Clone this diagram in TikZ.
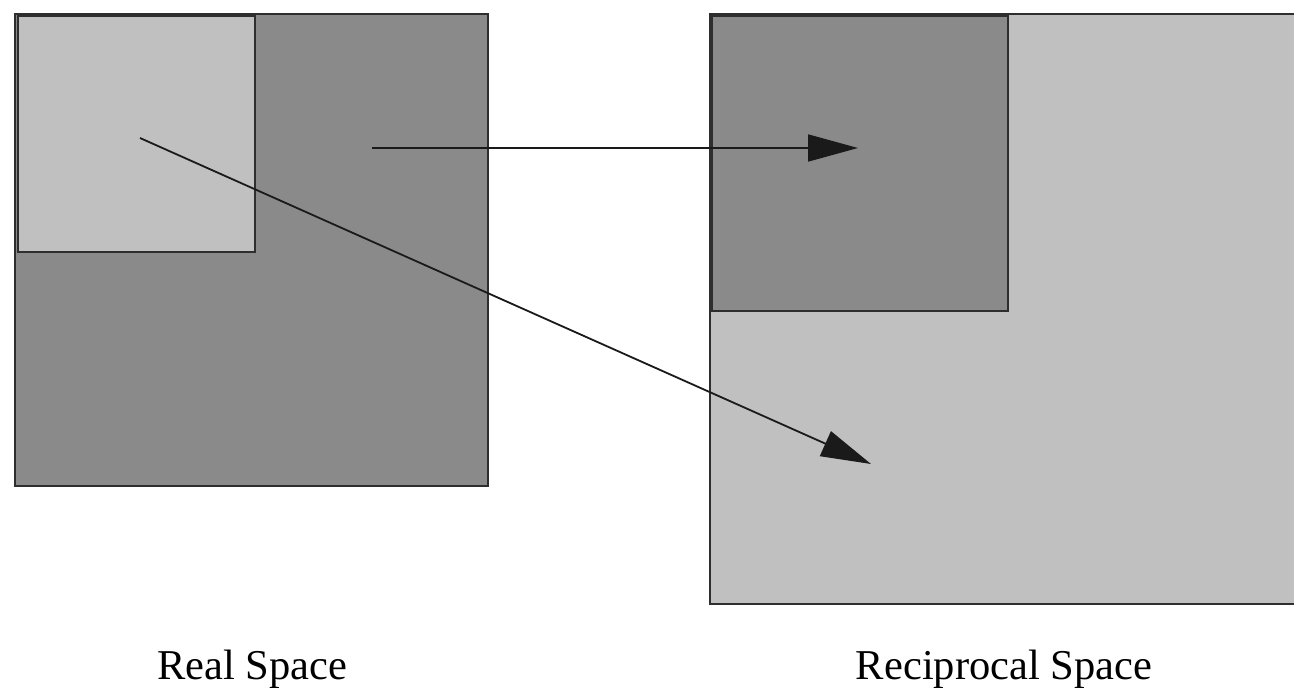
\documentclass[tikz,border=0pt]{standalone}
\usepackage{fontspec}
\setmainfont{Liberation Serif}
\usetikzlibrary{arrows.meta}
\definecolor{lightfill}{HTML}{C0C0C0}
\definecolor{darkfill}{HTML}{8A8A8A}
\definecolor{edge}{HTML}{2E2E2E}
\definecolor{arrowcol}{HTML}{1A1A1A}
\tikzset{
  panel/.style={draw=edge, line width=2.2pt},
  vec/.style={draw=arrowcol, line width=1.8pt, -{Triangle[length=50pt,width=27pt]}},
  caption/.style={anchor=base, inner sep=0pt, text=black, font=\fontsize{42.5}{50}\selectfont}
}
\begin{document}
\begin{tikzpicture}[x=1pt,y=-1pt]
\clip (0,0) rectangle (1294,688);
\fill[white] (0,0) rectangle (1294,688);
% real space
\filldraw[panel, fill=darkfill] (15,14) rectangle (488,486);
\filldraw[panel, fill=lightfill] (18,16) rectangle (255,252);
% reciprocal space
\filldraw[panel, fill=lightfill] (710,14) rectangle (1304,604);
\filldraw[panel, fill=darkfill] (712,16) rectangle (1008,311);
% arrow end points
\coordinate (t1) at (372,148);
\coordinate (h1) at (858,148);
\coordinate (t2) at (140,138);
\coordinate (h2) at (871,464);
\draw[vec] (t1) -- (h1);
\draw[vec] (t2) -- (h2);
% captions
\node[caption] (real) at (252,679) {Real Space};
\node[caption] (recip) at (1004,679) {Reciprocal Space};
\end{tikzpicture}
\end{document}
